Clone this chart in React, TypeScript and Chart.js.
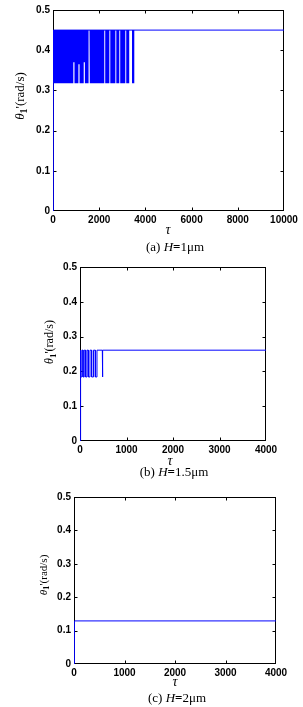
import React, { useEffect, useRef } from "react";
import { Chart, registerables } from "chart.js";
Chart.register(...registerables);

const BLUE = "#0000ff";

// ---------- Panel (a) H = 1 μm ----------
const aXTicks = [0, 2000, 4000, 6000, 8000, 10000];
const aYTicks = [0, 0.1, 0.2, 0.3, 0.4, 0.5];
const aTraceTau = [0, 15, 10000];
const aTraceTheta = [0, 0.45, 0.45];
// lower envelope of the fast oscillation band (band is filled up to aBandTop)
const aBandTop = 0.45;
const aBandTau = [
  0, 880, 880, 930, 930, 1100, 1100, 1150, 1150, 1330, 1330, 1380, 1380, 1540,
  1540, 1580, 1580, 1600, 1600, 2220, 2220, 2260, 2260, 2440, 2440, 2480, 2480,
  2700, 2700, 2740, 2740, 2870, 2870, 2910, 2910, 3130, 3130, 3170, 3170, 3300,
  3300, 3420, 3420, 3530, 3530,
];
const aBandLow = [
  0.318, 0.318, 0.37, 0.37, 0.318, 0.318, 0.365, 0.365, 0.318, 0.318, 0.37, 0.37,
  0.318, 0.318, 0.45, 0.45, 0.37, 0.37, 0.318, 0.318, 0.45, 0.45, 0.318, 0.318,
  0.45, 0.45, 0.318, 0.318, 0.45, 0.45, 0.318, 0.318, 0.45, 0.45, 0.318, 0.318,
  0.45, 0.45, 0.318, 0.318, 0.45, 0.45, 0.318, 0.318, 0.45,
];

// ---------- Panel (b) H = 1.5 μm ----------
const bXTicks = [0, 1000, 2000, 3000, 4000];
const bYTicks = [0, 0.1, 0.2, 0.3, 0.4, 0.5];
const bTraceTau = [
  0, 8, 15, 15, 40, 40, 65, 65, 90, 90, 120, 120, 150, 150, 180, 180, 215, 215,
  250, 250, 290, 290, 330, 330, 365, 365, 480, 480, 490, 490, 4000,
];
const bTraceTheta = [
  0, 0.261, 0.261, 0.184, 0.184, 0.261, 0.261, 0.184, 0.184, 0.261, 0.261, 0.184,
  0.184, 0.261, 0.261, 0.184, 0.184, 0.261, 0.261, 0.184, 0.184, 0.261, 0.261,
  0.184, 0.184, 0.261, 0.261, 0.184, 0.184, 0.261, 0.261,
];

// ---------- Panel (c) H = 2 μm ----------
const cXTicks = [0, 1000, 2000, 3000, 4000];
const cYTicks = [0, 0.1, 0.2, 0.3, 0.4, 0.5];
const cTraceTau = [0, 8, 4000];
const cTraceTheta = [0, 0.129, 0.129];

const pts = (xs: number[], ys: number[]) => xs.map((x, i) => ({ x, y: ys[i] }));

const SERIF = '"Liberation Serif", "DejaVu Serif", serif';
const SANS = '"Liberation Sans", Arial, sans-serif';

const boxPlugin = {
  id: "matlabBox",
  beforeDatasetsDraw(chart: any) {
    const { ctx, chartArea: a, scales } = chart;
    ctx.save();
    ctx.strokeStyle = "#000";
    ctx.lineWidth = 1;
    const L = Math.round(a.left) + 0.5;
    const R = Math.round(a.right) - 0.5;
    const T = Math.round(a.top) + 0.5;
    const B = Math.round(a.bottom) - 0.5;
    ctx.strokeRect(L, T, R - L, B - T);
    const tl = 3;
    ctx.beginPath();
    for (const t of scales.x.ticks) {
      let px = Math.round(scales.x.getPixelForValue(t.value)) + 0.5;
      px = Math.min(Math.max(px, L), R);
      ctx.moveTo(px, B);
      ctx.lineTo(px, B - tl);
      ctx.moveTo(px, T);
      ctx.lineTo(px, T + tl);
    }
    for (const t of scales.y.ticks) {
      let py = Math.round(scales.y.getPixelForValue(t.value)) + 0.5;
      py = Math.min(Math.max(py, T), B);
      ctx.moveTo(L, py);
      ctx.lineTo(L + tl, py);
      ctx.moveTo(R, py);
      ctx.lineTo(R - tl, py);
    }
    ctx.stroke();
    ctx.restore();
  },
  afterDraw(chart: any, _args: any, opts: any) {
    const { ctx } = chart;
    ctx.save();
    // y title: θ1'(rad/s), rotated
    const fs = opts.yFont;
    ctx.translate(opts.yTitleX, opts.yTitleY);
    ctx.rotate(-Math.PI / 2);
    ctx.fillStyle = "#000";
    ctx.textBaseline = "middle";
    const parts = [
      { t: "θ", f: `italic ${fs}px ${SERIF}`, dy: 0 },
      { t: "1", f: `bold ${Math.round(fs * 0.78)}px ${SERIF}`, dy: fs * 0.28 },
      { t: "'(rad/s)", f: `${fs}px ${SERIF}`, dy: 0 },
    ];
    let w = 0;
    for (const p of parts) {
      ctx.font = p.f;
      w += ctx.measureText(p.t).width;
    }
    let x = -w / 2;
    ctx.textAlign = "left";
    for (const p of parts) {
      ctx.font = p.f;
      ctx.fillText(p.t, x, p.dy);
      x += ctx.measureText(p.t).width;
    }
    ctx.setTransform(1, 0, 0, 1, 0, 0);
    // x title τ
    ctx.font = `italic ${opts.tauFont}px ${SERIF}`;
    ctx.textAlign = "center";
    ctx.fillText("τ", opts.tauX, opts.tauY);
    ctx.restore();
  },
};

type PanelProps = {
  top: number;
  height: number;
  area: { left: number; top: number; right: number; bottom: number };
  xMax: number;
  xTicks: number[];
  yTicks: number[];
  datasets: any[];
  yTitleX: number;
  yTitleY: number;
  yFont: number;
  tauX: number;
  tauY: number;
  tauFont: number;
  tickFont: number;
};

function Panel(p: PanelProps) {
  const ref = useRef<HTMLCanvasElement>(null);
  useEffect(() => {
    if (!ref.current) return;
    const W = 303;
    const tickFont = { family: SANS, size: p.tickFont, weight: "bold" as const };
    const chart = new Chart(ref.current, {
      type: "line",
      data: { datasets: p.datasets },
      plugins: [boxPlugin],
      options: {
        animation: false,
        responsive: false,
        events: [],
        layout: {
          padding: { left: 0, top: p.area.top, right: W - p.area.right, bottom: 0 },
        },
        plugins: {
          legend: { display: false },
          tooltip: { enabled: false },
          matlabBox: {
            yTitleX: p.yTitleX,
            yTitleY: p.yTitleY,
            yFont: p.yFont,
            tauX: p.tauX,
            tauY: p.tauY,
            tauFont: p.tauFont,
          },
        } as any,
        elements: { point: { radius: 0 }, line: { tension: 0 } },
        scales: {
          x: {
            type: "linear",
            min: 0,
            max: p.xMax,
            grid: { display: false, drawTicks: false },
            border: { display: false },
            afterFit: (s: any) => {
              s.height = p.height - p.area.bottom;
            },
            afterBuildTicks: (s: any) => {
              s.ticks = p.xTicks.map((v) => ({ value: v }));
            },
            ticks: {
              padding: 3,
              color: "#000",
              maxRotation: 0,
              autoSkip: false,
              font: tickFont,
              callback: (v: any) => String(v),
            },
          },
          y: {
            type: "linear",
            min: 0,
            max: 0.5,
            grid: { display: false, drawTicks: false },
            border: { display: false },
            afterFit: (s: any) => {
              s.width = p.area.left;
            },
            afterBuildTicks: (s: any) => {
              s.ticks = p.yTicks.map((v) => ({ value: v }));
            },
            ticks: {
              padding: 3,
              color: "#000",
              autoSkip: false,
              font: tickFont,
              callback: (v: any) => String(Math.round(v * 10) / 10),
            },
          },
        },
      } as any,
    });
    return () => chart.destroy();
  }, []);
  return (
    <canvas
      ref={ref}
      width={303}
      height={p.height}
      style={{ position: "absolute", left: 0, top: p.top, width: 303, height: p.height, display: "block" }}
    />
  );
}

const traceDs = (xs: number[], ys: number[]) => ({
  data: pts(xs, ys),
  borderColor: BLUE,
  borderWidth: 1,
  fill: false,
  pointRadius: 0,
});

const captionStyle = (cy: number, cx: number): React.CSSProperties => ({
  position: "absolute",
  left: cx - 100,
  width: 200,
  top: cy - 8,
  height: 16,
  lineHeight: "16px",
  textAlign: "center",
  fontFamily: SERIF,
  fontSize: 13,
  color: "#000",
  whiteSpace: "nowrap",
});

export default function App() {
  return (
    <div style={{ position: "absolute", left: 0, top: 0, width: 303, height: 707, background: "#fff", overflow: "hidden" }}>
      <Panel
        top={0}
        height={240}
        area={{ left: 53, top: 10, right: 284, bottom: 211 }}
        xMax={10000}
        xTicks={aXTicks}
        yTicks={aYTicks}
        datasets={[
          traceDs(aTraceTau, aTraceTheta),
          {
            data: pts(aBandTau, aBandLow),
            borderWidth: 0,
            borderColor: "rgba(0,0,0,0)",
            backgroundColor: BLUE,
            fill: { value: aBandTop },
            pointRadius: 0,
          },
        ]}
        yTitleX={21}
        yTitleY={96}
        yFont={13}
        tauX={168}
        tauY={230}
        tauFont={14}
        tickFont={10}
      />
      <div style={captionStyle(247, 175)}>
        (a) <i>H</i><b>=</b>1μm
      </div>
      <Panel
        top={250}
        height={215}
        area={{ left: 80, top: 17, right: 266, bottom: 191 }}
        xMax={4000}
        xTicks={bXTicks}
        yTicks={bYTicks}
        datasets={[traceDs(bTraceTau, bTraceTheta)]}
        yTitleX={50}
        yTitleY={92}
        yFont={12}
        tauX={170}
        tauY={211}
        tauFont={14}
        tickFont={10}
      />
      <div style={captionStyle(472, 174)}>
        (b) <i>H</i><b>=</b>1.5μm
      </div>
      <Panel
        top={480}
        height={210}
        area={{ left: 74, top: 17, right: 276, bottom: 184 }}
        xMax={4000}
        xTicks={cXTicks}
        yTicks={cYTicks}
        datasets={[traceDs(cTraceTau, cTraceTheta)]}
        yTitleX={44}
        yTitleY={95}
        yFont={11}
        tauX={175}
        tauY={202}
        tauFont={14}
        tickFont={10}
      />
      <div style={captionStyle(698, 177)}>
        (c) <i>H</i><b>=</b>2μm
      </div>
    </div>
  );
}
